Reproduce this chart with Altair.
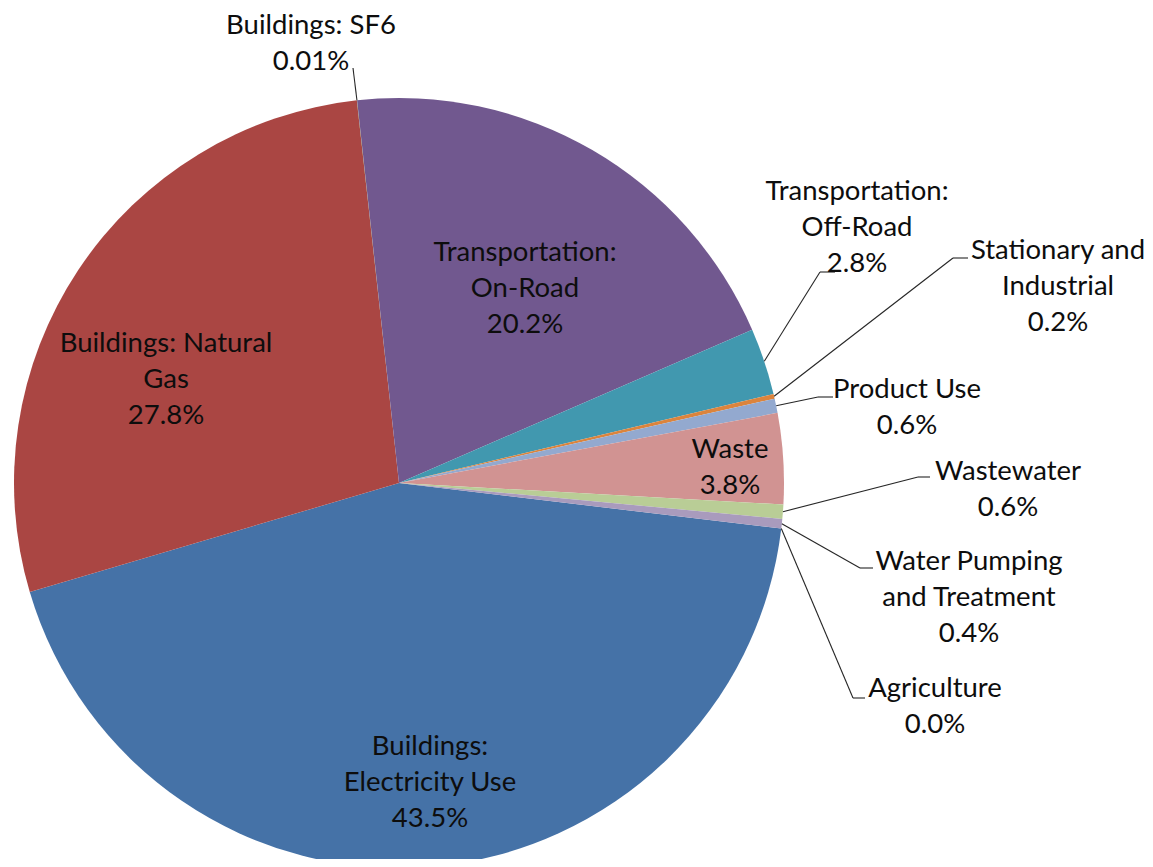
import math
import altair as alt
import pandas as pd

# ---- data (Excel series order) ----
categories = [
    "Buildings: Electricity Use", "Buildings: Natural Gas", "Buildings: SF6",
    "Transportation: On-Road", "Transportation: Off-Road", "Stationary and Industrial",
    "Product Use", "Waste", "Wastewater", "Water Pumping and Treatment", "Agriculture",
]
values = [43.5, 27.8, 0.01, 20.2, 2.8, 0.2, 0.6, 3.8, 0.6, 0.4, 0.0]
label_names = [
    "Buildings:\nElectricity Use", "Buildings: Natural\nGas", "Buildings: SF6",
    "Transportation:\nOn-Road", "Transportation:\nOff-Road", "Stationary and\nIndustrial",
    "Product Use", "Waste", "Wastewater", "Water Pumping\nand Treatment", "Agriculture",
]
pct_labels = ["43.5%", "27.8%", "0.01%", "20.2%", "2.8%", "0.2%", "0.6%", "3.8%", "0.6%", "0.4%", "0.0%"]

# ---- styles / layout ----
colors = ["#4572A7", "#AA4643", "#89A54E", "#71588F", "#4198AF", "#DB843D",
          "#93A9CF", "#D19392", "#B9CD96", "#A99BBD", "#92C3D4"]
W, H = 1137, 851
CX, CY, R = 391, 475, 385
START_DEG = 96.8
FONT = "Lato"
FS = 27.5
LH = 36
TEXT_DY = 2

# label block centres (plot px)
label_pos = [(422, 773), (158, 370), (303, 33.5), (517, 279), (849, 218), (1050, 277),
             (899, 398), (722, 458), (1000, 479.5), (961, 588), (927, 697)]
# leader lines: list of points after the slice edge point (None = no leader)
leaders = [None, None, [(345, 60)], None, [(812, 264), (827, 264)], [(945, 250), (960, 250)],
           [(810, 389), (825, 389)], None, [(910, 469), (922, 469)],
           [(852, 560), (865, 560)], [(845, 690), (857, 690)]]

total = sum(values)
t0 = math.radians(START_DEG)

df = pd.DataFrame({
    "cat": categories,
    "value": values,
    "idx": list(range(len(values))),
})

texts_full = [n + "\n" + p for n, p in zip(label_names, pct_labels)]
lab_df = pd.DataFrame({
    "text": texts_full,
    "lx": [p[0] for p in label_pos],
    # Vega anchors the first line; shift so the block is centred
    "ly": [p[1] + TEXT_DY - (t.count("\n")) * LH / 2 for p, t in zip(label_pos, texts_full)],
})

# leader segments derived from slice mid angles
segs = []
cum = 0.0
for i, v in enumerate(values):
    mid = t0 + 2 * math.pi * (cum + v / 2) / total
    cum += v
    if leaders[i] is None:
        continue
    pts = [(CX + R * math.sin(mid), CY - R * math.cos(mid))] + leaders[i]
    for a, b in zip(pts[:-1], pts[1:]):
        segs.append({"x": a[0], "y": a[1], "x2": b[0], "y2": b[1]})
seg_df = pd.DataFrame(segs)

pie = alt.Chart(df).mark_arc(outerRadius=R).encode(
    theta=alt.Theta("value:Q", stack=True,
                    scale=alt.Scale(range=[t0, t0 + 2 * math.pi])),
    color=alt.Color("cat:N", scale=alt.Scale(domain=categories, range=colors), legend=None),
    order=alt.Order("idx:Q"),
    x=alt.value(CX),
    y=alt.value(CY),
)

lines = alt.Chart(seg_df).mark_rule(color="#262626", strokeWidth=1.1).encode(
    x=alt.X("x:Q", scale=None, axis=None),
    y=alt.Y("y:Q", scale=None, axis=None),
    x2="x2:Q",
    y2="y2:Q",
)

texts = alt.Chart(lab_df).mark_text(
    font=FONT, fontSize=FS, lineBreak="\n", lineHeight=LH,
    align="center", baseline="middle", color="#0d0d0d",
).encode(
    x=alt.X("lx:Q", scale=None, axis=None),
    y=alt.Y("ly:Q", scale=None, axis=None),
    text="text:N",
)

chart = alt.layer(pie, lines, texts).properties(
    width=W, height=H, padding=0, autosize="none",
).configure_view(stroke=None)

chart.save("out.html", embed_options={"renderer": "svg", "actions": False})
